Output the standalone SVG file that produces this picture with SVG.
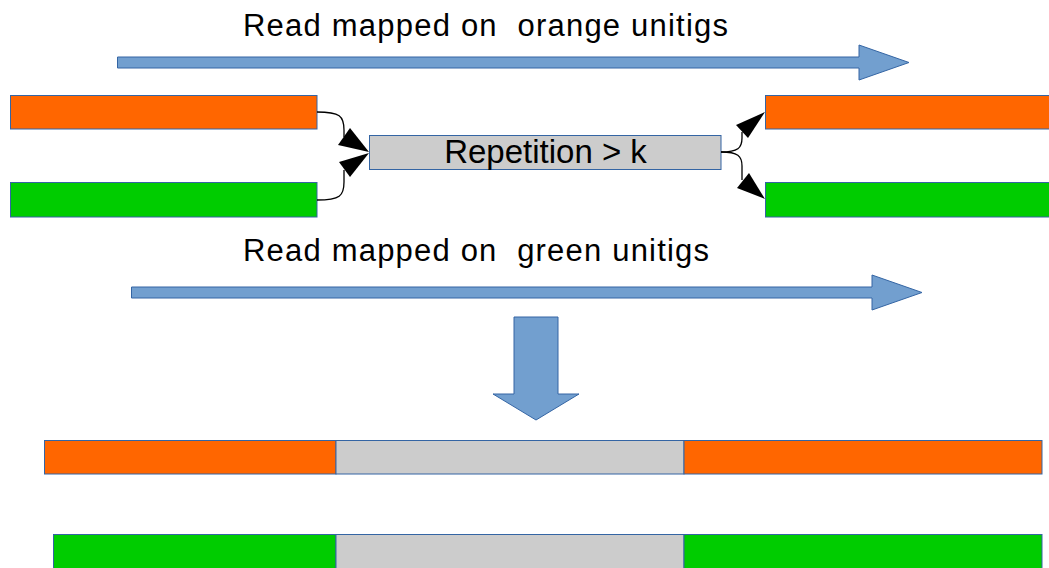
<svg xmlns="http://www.w3.org/2000/svg" width="1049" height="568" viewBox="0 0 1049 568">
<style>
.orange{fill:#ff6600;stroke:#3465a4;stroke-width:1}
.green{fill:#00cc00;stroke:#3465a4;stroke-width:1}
.gray{fill:#cccccc;stroke:#3465a4;stroke-width:1}
.blue{fill:#729fcf;stroke:#3465a4;stroke-width:1}
.lbl{font-family:"Liberation Sans",Arial,sans-serif;fill:#000;white-space:pre}
.conn{fill:none;stroke:#000;stroke-width:1.3}
.head{fill:#000;stroke:none}
</style>
<rect width="1049" height="568" fill="#ffffff"/>

<g id="label-orange-read">
<text class="lbl" x="243" y="36" font-size="31" textLength="485" lengthAdjust="spacing" xml:space="preserve">Read mapped on  orange unitigs</text>
</g>
<g id="arrow-orange-read">
<polygon class="blue" points="117.5,57 859,57 859,45 909,62.5 859,80 859,68 117.5,68"/>
</g>

<g id="orange-left"><rect class="orange" x="10.5" y="95.5" width="306.5" height="33.5"/></g>
<g id="green-left"><rect class="green" x="10.5" y="182.5" width="306.5" height="34.5"/></g>
<g id="repetition">
<rect class="gray" x="369.5" y="135.5" width="351.5" height="34"/>
<text class="lbl" x="545.5" y="163" font-size="33" text-anchor="middle">Repetition &gt; k</text>
</g>
<g id="orange-right"><rect class="orange" x="765.5" y="95.5" width="290" height="33.5"/></g>
<g id="green-right"><rect class="green" x="765.5" y="182.5" width="290" height="34.5"/></g>

<g id="connectors">
<path class="conn" d="M317,112 C340,112 344,116 344,130 L344,137"/>
<polygon class="head" points="338,145 350,128 369,152"/>
<path class="conn" d="M317,200 C340,200 344,196 344,182 L344,170"/>
<polygon class="head" points="339,162 350,177 369,153"/>
<path class="conn" d="M721,152 C738,152 742,148 742,138 L742,132"/>
<polygon class="head" points="736,125 748,138 765,112"/>
<path class="conn" d="M721,152 C738,152 742,156 742,166 L742,180"/>
<polygon class="head" points="737,188 749,173 765,199"/>
</g>

<g id="label-green-read">
<text class="lbl" x="243" y="261" font-size="31" textLength="466" lengthAdjust="spacing" xml:space="preserve">Read mapped on  green unitigs</text>
</g>
<g id="arrow-green-read">
<polygon class="blue" points="131.5,287 872,287 872,275 922,292.5 872,310 872,298 131.5,298"/>
</g>

<g id="arrow-down">
<polygon class="blue" points="514,317 558,317 558,394 579,394 536,420 493,394 514,394"/>
</g>

<g id="merged-orange">
<rect class="orange" x="44.5" y="440.5" width="291.5" height="33.5"/>
<rect class="gray" x="336" y="440.5" width="348" height="33.5"/>
<rect class="orange" x="684" y="440.5" width="358" height="33.5"/>
</g>
<g id="merged-green">
<rect class="green" x="53.5" y="534.5" width="282.5" height="35"/>
<rect class="gray" x="336" y="534.5" width="348" height="35"/>
<rect class="green" x="684" y="534.5" width="358" height="35"/>
</g>
</svg>
